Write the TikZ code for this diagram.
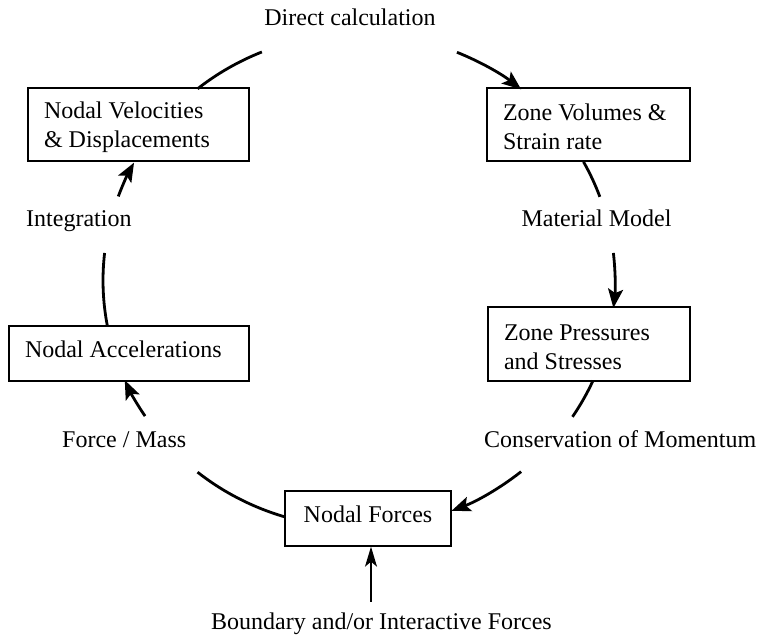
\documentclass[tikz,border=0pt]{standalone}
\usepackage{fontspec}
\setmainfont{Liberation Serif}
\usetikzlibrary{arrows.meta,calc}
\newcommand{\nsp}{\spaceskip=0pt\xspaceskip=0pt\relax}
\begin{document}
\begin{tikzpicture}[x=1pt,y=1pt,
  every node/.style={font=\fontsize{24}{29}\selectfont, inner sep=0pt},
  box/.style={draw, line width=1.4pt, inner xsep=16pt, inner ysep=0pt},
  onebox/.style={box, align=center, text height=18pt, text depth=9pt},
  twobox/.style={box, align=left},
  cyc/.style={line width=2.8pt},
  cycarrow/.style={cyc, -{Stealth[length=19pt,width=15pt,inset=4pt]}},
  ext/.style={line width=1.3pt, -{Stealth[length=20pt,width=12pt,inset=5pt]}}
]
\useasboundingbox (0,0) rectangle (763,644);
% boxes
\node[twobox, minimum width=221pt, minimum height=73pt, text width=189pt] (vel) at (138.5,519.5) {\nsp\rule{0pt}{22pt}Nodal Velocities\\\& Displacements};
\node[twobox, minimum width=203pt, minimum height=73pt, text width=171pt] (vol) at (588.5,519.5) {\nsp\rule{0pt}{22pt}Zone Volumes \&\\Strain rate};
\node[twobox, minimum width=202pt, minimum height=74pt, text width=170pt] (pre) at (589,300) {\nsp\rule{0pt}{22pt}Zone Pressures\\and Stresses};
\node[onebox, minimum width=240pt, minimum height=55pt, text width=208pt, align=left] (acc) at (129,290.5) {\nsp Nodal Accelerations};
\node[onebox, minimum width=166pt, minimum height=55pt] (frc) at (368,125.5) {Nodal Forces};
% labels
\node[anchor=base] (ldirect) at (350,618) {Direct calculation};
\node[anchor=base west] (lint) at (26,417) {Integration};
\node[anchor=base] (lmat) at (596.5,417) {Material Model};
\node[anchor=base west] (lfm) at (62,196) {Force / Mass};
\node[anchor=base west] (lcons) at (484,196) {Conservation of Momentum};
\node[anchor=base] (lbnd) at (381.5,14) {Boundary and/or Interactive Forces};
% cycle centre
\coordinate (O) at (359,363.5);
\newcommand{\cycarc}[4]{%
  \coordinate (#1) at ($(O)+(#2:256pt and 247pt)$);
  \draw[#4] (#1) arc[start angle=#2, end angle=#3, x radius=256pt, y radius=247pt];}
\cycarc{a1}{129.1}{112.3}{cyc}
\cycarc{a2}{67.5}{50.7}{cycarrow}
\cycarc{a3}{28.7}{19.8}{cyc}
\cycarc{a4}{6.4}{-6.4}{cycarrow}
\cycarc{a5}{-23.9}{-33.5}{cyc}
\cycarc{a6}{-50.7}{-68.8}{cycarrow}
\cycarc{a7}{253.2}{230.9}{cyc}
\cycarc{a8}{213.3}{203.8}{cycarrow}
\cycarc{a9}{190.6}{173.6}{cyc}
\cycarc{a10}{160.1}{151.5}{cycarrow}
% external force
\coordinate (bstart) at (371,42);
\draw[ext] (bstart) -- (bstart |- frc.south);
\end{tikzpicture}
\end{document}
